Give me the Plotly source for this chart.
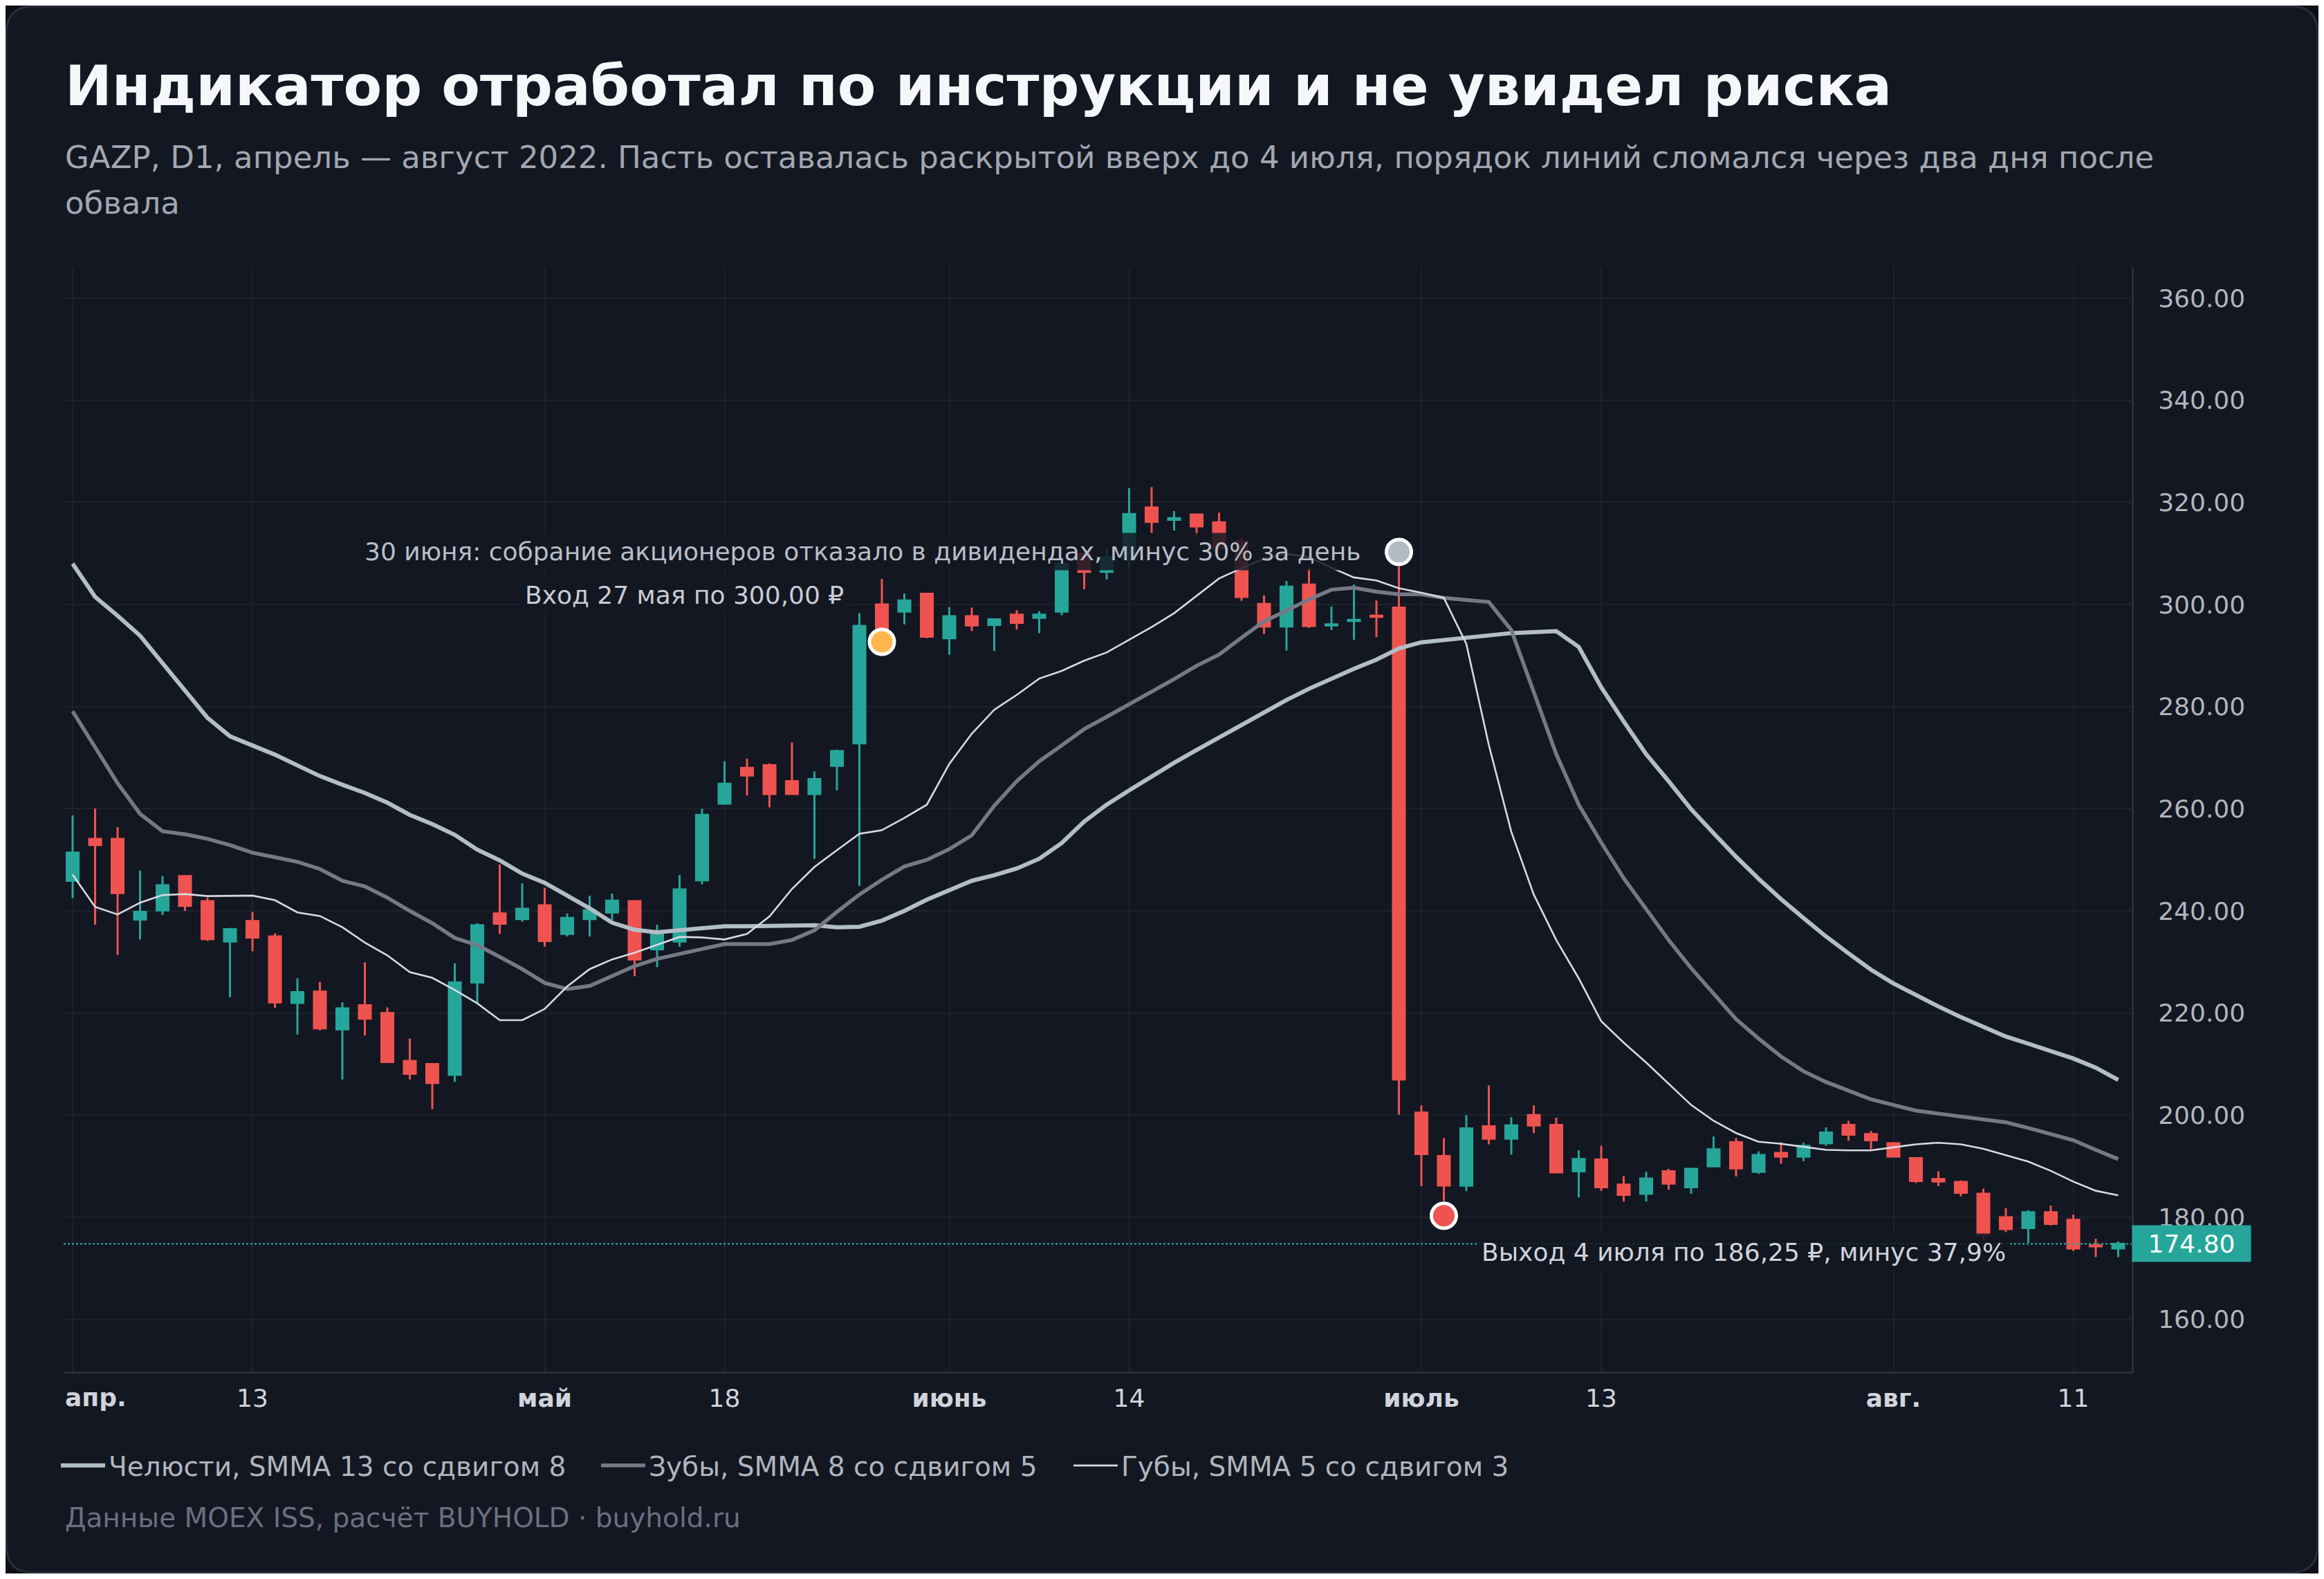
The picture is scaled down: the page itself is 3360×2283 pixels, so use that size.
import plotly.graph_objects as go

# торговые дни (MOEX, без праздников)
apr_days = [1, 4, 5, 6, 7, 8, 11, 12, 13, 14, 15, 18, 19, 20, 21, 22, 25, 26, 27, 28, 29]
may_days = [4, 5, 6, 11, 12, 13, 16, 17, 18, 19, 20, 23, 24, 25, 26, 27, 30, 31]
jun_days = [1, 2, 3, 6, 7, 8, 9, 10, 14, 15, 16, 17, 20, 21, 22, 23, 24, 27, 28, 29, 30]
jul_days = [1, 4, 5, 6, 7, 8, 11, 12, 13, 14, 15, 18, 19, 20, 21, 22, 25, 26, 27, 28, 29]
aug_days = [1, 2, 3, 4, 5, 8, 9, 10, 11, 12, 15]
dates = ([f"2022-04-{d:02d}" for d in apr_days] + [f"2022-05-{d:02d}" for d in may_days]
         + [f"2022-06-{d:02d}" for d in jun_days] + [f"2022-07-{d:02d}" for d in jul_days]
         + [f"2022-08-{d:02d}" for d in aug_days])

opens = [245.9, 254.1, 254.1, 238.3, 240.1, 246.8, 241.9, 234.0, 238.0, 235.0,
         222.0, 224.2, 216.8, 221.5, 220.0, 210.6, 210.0, 207.9, 226.0, 239.5,
         238.4, 241.1, 235.5, 238.4, 239.7, 241.9, 232.5, 234.0, 246.0, 261.0,
         268.0, 268.5, 265.4, 262.9, 268.4, 272.8, 300.0, 298.6, 302.1, 293.4,
         297.7, 296.0, 298.0, 297.4, 298.6, 310.0, 306.4, 308.8, 319.0, 316.6,
         317.6, 316.1, 312.4, 300.1, 295.7, 303.9, 295.9, 296.8, 297.8, 299.4,
         200.5, 192.0, 186.2, 197.8, 195.4, 200.0, 198.1, 189.0, 191.3, 186.4,
         184.6, 189.0, 185.9, 190.0, 194.7, 188.9, 192.6, 191.9, 194.5, 198.1,
         196.3, 194.5, 191.6, 187.5, 186.9, 184.6, 180.0, 177.9, 181.0, 179.5,
         174.5, 173.9]
highs = [258.7, 260.0, 256.4, 247.9, 246.8, 246.8, 242.6, 236.7, 239.8, 235.6,
         226.8, 226.1, 222.1, 229.9, 221.1, 215.0, 210.0, 229.7, 237.6, 249.1,
         245.4, 244.5, 239.5, 243.0, 243.4, 241.9, 237.3, 247.0, 260.0, 269.3,
         269.8, 268.9, 273.0, 267.3, 271.6, 298.3, 305.0, 302.1, 302.1, 299.5,
         299.4, 297.2, 298.9, 298.7, 309.3, 310.3, 310.9, 322.8, 323.0, 318.3,
         317.7, 318.0, 313.0, 301.8, 304.6, 307.3, 299.6, 303.9, 300.8, 307.5,
         201.9, 195.5, 200.0, 205.8, 199.6, 201.9, 199.5, 193.1, 194.0, 188.1,
         188.9, 189.5, 189.7, 195.8, 195.5, 192.9, 194.7, 194.6, 197.6, 198.9,
         196.9, 194.7, 191.7, 189.0, 187.2, 185.6, 181.8, 181.4, 182.3, 180.5,
         175.8, 175.3]
lows = [242.5, 237.3, 231.4, 234.4, 239.2, 240.0, 234.1, 223.1, 232.1, 221.0,
        215.8, 216.6, 207.0, 215.6, 210.3, 207.0, 201.2, 206.5, 222.0, 235.5,
        237.9, 233.0, 235.0, 235.0, 238.2, 227.2, 229.0, 233.0, 245.2, 260.9,
        262.6, 260.3, 262.9, 250.2, 263.6, 244.9, 293.0, 296.1, 293.4, 290.2,
        294.8, 290.9, 295.1, 294.4, 297.9, 303.0, 304.9, 306.9, 314.0, 314.5,
        313.4, 310.5, 300.7, 294.2, 291.0, 295.4, 295.0, 293.1, 293.6, 200.1,
        186.1, 183.2, 185.1, 194.3, 192.3, 196.5, 188.8, 183.9, 185.2, 183.1,
        183.1, 185.4, 184.6, 190.0, 188.0, 188.5, 190.5, 191.0, 194.0, 195.0,
        193.3, 191.9, 186.7, 186.1, 184.1, 175.6, 177.1, 175.0, 178.4, 173.4,
        172.2, 172.2]
closes = [251.4, 252.9, 243.5, 239.8, 245.0, 241.0, 234.5, 236.4, 234.8, 222.1,
          224.1, 217.0, 220.9, 218.9, 210.4, 208.1, 206.3, 226.0, 237.2, 237.5,
          240.4, 234.1, 238.6, 240.1, 242.0, 230.5, 235.5, 244.2, 258.8, 264.9,
          266.5, 262.9, 262.9, 265.8, 271.3, 295.8, 294.5, 300.8, 293.7, 297.7,
          295.9, 297.1, 296.4, 298.0, 308.0, 306.4, 309.2, 317.7, 316.2, 316.9,
          315.3, 311.0, 301.5, 295.7, 303.5, 295.8, 296.1, 297.0, 297.6, 207.0,
          192.4, 186.25, 197.4, 195.4, 198.0, 198.0, 188.8, 191.4, 185.9, 184.4,
          187.6, 186.6, 189.5, 193.3, 189.6, 192.2, 191.9, 194.0, 196.6, 196.2,
          195.1, 191.9, 187.1, 187.0, 184.8, 176.5, 177.7, 181.0, 178.7, 173.9,
          174.3, 174.8]

# Аллигатор: значения
jaw = [308.0, 301.5, 297.8, 293.9, 288.5, 283.0, 277.8, 274.2, 272.4, 270.6,
       268.5, 266.4, 264.7, 263.1, 261.2, 258.8, 257.0, 254.9, 252.0, 249.9,
       247.3, 245.5, 243.0, 240.5, 237.7, 236.3, 235.8, 236.2, 236.8, 237.0,
       237.0, 237.1, 237.3, 237.2, 236.8, 236.9, 238.1, 240.0, 242.2, 244.1,
       245.9, 247.0, 248.3, 250.2, 253.3, 257.5, 260.8, 263.6, 266.4, 269.0,
       271.5, 274.0, 276.5, 279.0, 281.3, 283.5, 285.5, 287.4, 289.2, 291.4,
       292.6, 293.1, 293.5, 294.1, 294.4, 294.6, 294.8, 291.7, 283.8, 277.1,
       270.7, 265.4, 259.9, 255.2, 250.6, 246.3, 242.3, 238.6, 235.0, 231.7,
       228.5, 225.8, 223.5, 221.3, 219.2, 217.3, 215.4, 214.0, 212.5, 211.1,
       209.3, 206.9]
teeth = [279.1, 272.0, 265.0, 259.0, 255.6, 255.0, 254.1, 252.9, 251.4, 250.5,
         249.6, 248.2, 245.9, 244.8, 242.6, 240.0, 237.6, 234.7, 233.3, 231.0,
         228.6, 225.9, 224.7, 225.3, 227.2, 229.2, 230.6, 231.6, 232.6, 233.5,
         233.5, 233.5, 234.3, 236.2, 239.8, 243.2, 246.1, 248.7, 250.0, 252.1,
         254.8, 260.6, 265.4, 269.3, 272.4, 275.6, 278.0, 280.4, 283.0, 285.4,
         288.0, 290.2, 293.5, 296.7, 298.8, 301.0, 302.9, 303.3, 302.5, 302.0,
         302.0, 301.3, 300.9, 300.5, 295.0, 283.1, 270.7, 260.8, 253.4, 246.4,
         240.4, 234.3, 228.8, 223.7, 218.8, 215.0, 211.5, 208.6, 206.5, 204.8,
         203.1, 202.0, 200.9, 200.3, 199.7, 199.2, 198.6, 197.5, 196.3, 195.1,
         193.2, 191.4]
lips = [247.1, 240.8, 239.3, 241.6, 243.1, 243.3, 242.9, 242.9, 243.0, 242.1,
        239.7, 239.0, 236.8, 233.8, 231.3, 228.0, 226.9, 224.5, 221.9, 218.6,
        218.6, 220.8, 225.2, 228.6, 230.5, 231.8, 233.3, 234.9, 234.8, 234.4,
        235.5, 238.9, 244.3, 248.6, 251.9, 255.1, 255.8, 258.2, 260.8, 268.8,
        274.7, 279.4, 282.3, 285.5, 287.0, 289.0, 290.6, 293.1, 295.6, 298.3,
        301.7, 305.1, 307.1, 309.0, 309.9, 309.3, 307.2, 305.3, 304.7, 303.2,
        302.3, 301.3, 292.3, 272.5, 255.5, 243.2, 234.3, 226.8, 218.4, 214.2,
        210.3, 206.1, 202.0, 198.9, 196.5, 194.8, 194.4, 193.8, 193.2, 193.1,
        193.1, 193.7, 194.3, 194.6, 194.3, 193.4, 192.2, 190.9, 189.1, 187.0,
        185.2, 184.3]

tick_dates = ["2022-04-01", "2022-04-13", "2022-05-04", "2022-05-18", "2022-06-01",
              "2022-06-14", "2022-07-01", "2022-07-13", "2022-08-01", "2022-08-11"]
# подпись первого месяца вынесена отдельно: она прижата к левому краю
tick_text = ["", "13", "<b>май</b>", "18", "<b>июнь</b>",
             "14", "<b>июль</b>", "13", "<b>авг.</b>", "11"]
first_month = "<b>апр.</b>"
price_ticks = [160, 180, 200, 220, 240, 260, 280, 300, 320, 340, 360]

entry_date, entry_price, entry_dot = "2022-05-27", 300.00, 292.7
event_date, event_dot = "2022-06-30", 310.3
exit_date, exit_dot, exit_label_y = "2022-07-04", 180.3, 173.1
last_price = closes[-1]

# страница имеет поле 8px, поэтому фигура чуть меньше окна
W, H = 3344, 2267
ML, MR, MT, MB = 84, 270, 378, 292
PW, PH = W - ML - MR, H - MT - MB


def px(x):
    return (x - ML) / PW


def py(y):
    return (H - MB - y) / PH


BG = "#131722"
FONT = "DejaVu Sans"

fig = go.Figure()

fig.add_trace(go.Candlestick(
    x=dates, open=opens, high=highs, low=lows, close=closes,
    increasing=dict(line=dict(color="#26a69a", width=3), fillcolor="#26a69a"),
    decreasing=dict(line=dict(color="#ef5350", width=3), fillcolor="#ef5350"),
    whiskerwidth=0, showlegend=False, hoverinfo="skip"))

fig.add_trace(go.Scatter(x=dates, y=jaw, mode="lines", name="Челюсти, SMMA 13 со сдвигом 8",
                         line=dict(color="#b2bec6", width=6), legend="legend"))
fig.add_trace(go.Scatter(x=dates, y=teeth, mode="lines", name="Зубы, SMMA 8 со сдвигом 5",
                         line=dict(color="#767985", width=5.5), legend="legend2"))
fig.add_trace(go.Scatter(x=dates, y=lips, mode="lines", name="Губы, SMMA 5 со сдвигом 3",
                         line=dict(color="#d7dae2", width=2.6), legend="legend3"))

fig.add_trace(go.Scatter(
    x=[entry_date, event_date, exit_date], y=[entry_dot, event_dot, exit_dot],
    mode="markers", showlegend=False, hoverinfo="skip",
    marker=dict(size=36, color=["#ffb74d", "#b2bcc2", "#ef5350"],
                line=dict(color="#ffffff", width=5))))

# карточка со скруглёнными углами
r = 40
x0, x1 = px(1), px(W - 1)
y0, y1 = py(H - 1), py(1)
rx, ry = r / PW, r / PH
card = (f"M {x0 + rx},{y1} L {x1 - rx},{y1} Q {x1},{y1} {x1},{y1 - ry} "
        f"L {x1},{y0 + ry} Q {x1},{y0} {x1 - rx},{y0} L {x0 + rx},{y0} "
        f"Q {x0},{y0} {x0},{y0 + ry} L {x0},{y1 - ry} Q {x0},{y1} {x0 + rx},{y1} Z")
fig.add_shape(type="path", path=card, xref="paper", yref="paper", layer="below",
              fillcolor=BG, line=dict(color="#2a2e39", width=3))

fig.add_shape(type="line", xref="paper", yref="y", x0=0, x1=1, y0=last_price, y1=last_price,
              line=dict(color="#26a69a", width=2.4, dash="dot"))

fig.add_annotation(x=px(84), y=py(116), xref="paper", yref="paper", xanchor="left", yanchor="middle",
                   text="<b>Индикатор отработал по инструкции и не увидел риска</b>",
                   showarrow=False, font=dict(size=81, color="#f5f7fa", family=FONT))
fig.add_annotation(x=px(84), y=py(219), xref="paper", yref="paper", xanchor="left", yanchor="middle",
                   text="GAZP, D1, апрель — август 2022. Пасть оставалась раскрытой вверх до 4 июля, "
                        "порядок линий сломался через два дня после",
                   showarrow=False, font=dict(size=45, color="#a3a7b1", family=FONT))
fig.add_annotation(x=px(84), y=py(285.6), xref="paper", yref="paper", xanchor="left", yanchor="middle",
                   text="обвала", showarrow=False, font=dict(size=45, color="#a3a7b1", family=FONT))
fig.add_annotation(x=px(84), y=py(2186), xref="paper", yref="paper", xanchor="left", yanchor="middle",
                   text="Данные MOEX ISS, расчёт BUYHOLD · buyhold.ru",
                   showarrow=False, font=dict(size=39, color="#6b7080", family=FONT))
fig.add_annotation(x=px(84), y=py(2012), xref="paper", yref="paper", xanchor="left", yanchor="middle",
                   text=first_month, showarrow=False, font=dict(size=36, color="#d1d4dc", family=FONT))

note_bg = "rgba(19,23,34,0.85)"
fig.add_annotation(x=event_date, y=event_dot, xanchor="right", yanchor="middle", xshift=-49,
                   text="30 июня: собрание акционеров отказало в дивидендах, минус 30% за день",
                   showarrow=False, bgcolor=note_bg, borderpad=6,
                   font=dict(size=36, color="#b9bec8", family=FONT))
fig.add_annotation(x=entry_date, y=entry_price, xanchor="right", yanchor="middle", xshift=-48, yshift=14,
                   text="Вход 27 мая по 300,00 ₽", showarrow=False, bgcolor=note_bg, borderpad=6,
                   font=dict(size=36, color="#c9ccd4", family=FONT))
fig.add_annotation(x=exit_date, y=exit_label_y, xanchor="left", yanchor="middle", xshift=47,
                   text="Выход 4 июля по 186,25 ₽, минус 37,9%", showarrow=False,
                   bgcolor=note_bg, borderpad=6, font=dict(size=36, color="#d1d4dc", family=FONT))
fig.add_annotation(x=1, y=last_price, xref="paper", yref="y", xanchor="left", yanchor="middle",
                   text=f"{last_price:.2f}", showarrow=False, bgcolor="#26a69a", borderpad=3,
                   width=165, height=46, align="center",
                   font=dict(size=36, color="#ffffff", family=FONT))

legend_style = dict(orientation="h", xanchor="left", yanchor="middle", y=py(2111),
                    font=dict(size=39, color="#b2b5be", family=FONT),
                    bgcolor="rgba(0,0,0,0)", itemwidth=64)

fig.update_layout(
    width=W, height=H,
    margin=dict(l=ML, r=MR, t=MT, b=MB),
    paper_bgcolor="#0d1016", plot_bgcolor=BG,
    font=dict(family=FONT, color="#d1d4dc", size=36),
    boxgap=0.25,
    showlegend=True,
    legend=dict(x=px(75), **legend_style),
    legend2=dict(x=px(856), **legend_style),
    legend3=dict(x=px(1539), **legend_style),
    xaxis=dict(type="category", range=[-0.4, 91.6], rangeslider=dict(visible=False),
               tickmode="array", tickvals=tick_dates, ticktext=tick_text,
               showgrid=True, gridcolor="#1e222d", gridwidth=2.4,
               showline=True, linecolor="#2a2e39", linewidth=3,
               ticks="", ticklabelstandoff=5, tickfont=dict(size=36, color="#d1d4dc"),
               zeroline=False),
    yaxis=dict(side="right", range=[149.8, 366.1], tickmode="array",
               tickvals=price_ticks, tickformat=".2f", showgrid=True, gridcolor="#1e222d",
               gridwidth=2.4, showline=True, linecolor="#2a2e39", linewidth=3, ticks="",
               ticklabelstandoff=28, tickfont=dict(size=36, color="#b2b5be"), zeroline=False),
)

fig.write_html("out.html")
